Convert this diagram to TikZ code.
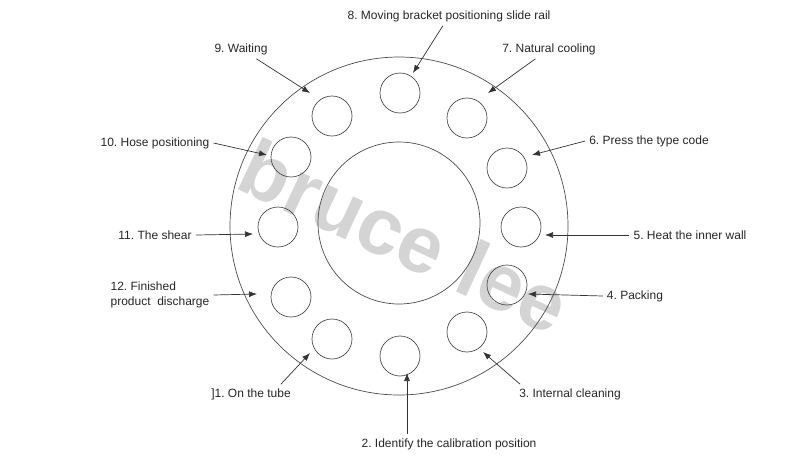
\documentclass[tikz,border=0pt]{standalone}
\usepackage{fontspec}
\setmainfont{Liberation Sans}
\usetikzlibrary{arrows.meta,positioning}
\frenchspacing

\begin{document}
\begin{tikzpicture}[
    x=1pt, y=-1pt,
    every node/.style={font=\fontsize{12}{14.5}\selectfont},
    station/.style={circle, draw=black!70, line width=0.7pt,
                    minimum size=40pt, inner sep=0pt},
    ring/.style={circle, draw=black!70, line width=0.7pt, inner sep=0pt},
    lbl/.style={inner sep=4pt, text=black!85},
    myarrow/.style={-{Latex[length=8pt,width=6pt]}, line width=0.7pt, black!80},
    wmark/.style={font=\fontsize{80}{80}\selectfont\bfseries, text=black!17},
]
\useasboundingbox (0,0) rectangle (790,456);

% Watermark
\node[wmark, rotate=-25] (wm) at (405,236) {bruce lee};

% Disc
\node[ring, minimum size=338pt] (rim) at (399,226) {};
\node[ring, minimum size=162pt] (core) at (399,223) {};

% Stations
\node[station] (s1) at (332,339) {};
\node[station] (s2) at (400,356) {};
\node[station] (s3) at (467,332) {};
\node[station] (s4) at (507,285) {};
\node[station] (s5) at (521,227) {};
\node[station] (s6) at (507,168) {};
\node[station] (s7) at (467,118) {};
\node[station] (s8) at (400,93) {};
\node[station] (s9) at (332,116) {};
\node[station] (s10) at (291,157) {};
\node[station] (s11) at (278,227) {};
\node[station] (s12) at (291,297) {};

% Labels
\node[lbl] (l1) at (251,394) {]1. On the tube};
\node[lbl] (l2) at (449,444) {2. Identify the calibration position};
\node[lbl] (l3) at (570,394) {3. Internal cleaning};
\node[lbl] (l4) at (635,296) {4. Packing};
\node[lbl] (l5) at (690,235) {5. Heat the inner wall};
\node[lbl] (l6) at (649,141) {6. Press the type code};
\node[lbl] (l7) at (549,49) {7. Natural cooling};
\node[lbl] (l8) at (449,16) {8. Moving bracket positioning slide rail};
\node[lbl] (l9) at (241,49) {9. Waiting};
\node[lbl] (l10) at (155,143) {10. Hose positioning};
\node[lbl] (l11) at (155,235) {11. The shear};
\node[lbl, align=left] (l12) at (160,295) {12. Finished\\product\ \ discharge};

% Arrow targets
\coordinate (t1) at (310,353);
\coordinate (t2) at (407,373);
\coordinate (t3) at (483,352);
\coordinate (t4) at (528,294);
\coordinate (t5) at (545,235);
\coordinate (t6) at (532,155);
\coordinate (t7) at (488,93);
\coordinate (t8) at (413,73);
\coordinate (t9) at (310,93);
\coordinate (t10) at (267,155);
\coordinate (t11) at (253,234);
\coordinate (t12) at (257,294);

% Arrows
\draw[myarrow] ([xshift=-14pt]l1.north east) -- (t1);
\draw[myarrow] ([xshift=-42pt]l2.north) -- (t2);
\draw[myarrow] ([xshift=5pt]l3.north west) -- (t3);
\draw[myarrow] (l4.west) -- (t4);
\draw[myarrow] (l5.west) -- (t5);
\draw[myarrow] (l6.west) -- (t6);
\draw[myarrow] (l7) -- (t7);
\draw[myarrow] (l8) -- (t8);
\draw[myarrow] (l9) -- (t9);
\draw[myarrow] (l10.east) -- (t10);
\draw[myarrow] (l11.east) -- (t11);
\draw[myarrow] (l12.east) -- (t12);

\end{tikzpicture}
\end{document}
